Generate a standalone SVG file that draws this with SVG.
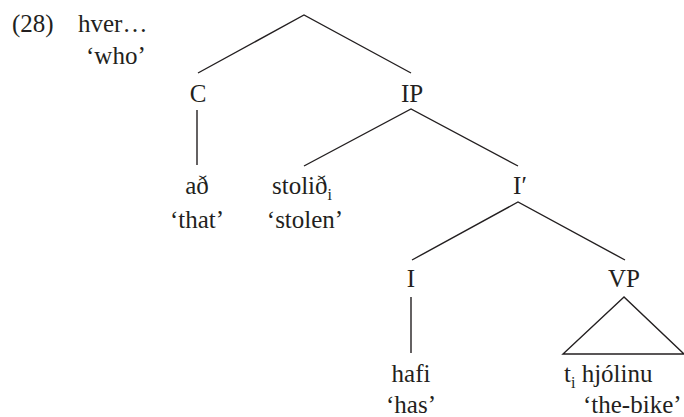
<svg xmlns="http://www.w3.org/2000/svg" width="684" height="417" viewBox="0 0 684 417">
  <rect width="684" height="417" fill="#ffffff"/>

  <!-- connectors: tree branches and the VP triangle -->
  <g id="edges" stroke="#231f20" stroke-width="1.4" fill="none">
    <polyline points="198,73 304,15 411,73"/>
    <line x1="197" y1="110" x2="197" y2="165"/>
    <polyline points="304,166 411,109 518,166"/>
    <polyline points="412,260 518,202 625,260"/>
    <line x1="411" y1="297" x2="411" y2="353"/>
    <polygon points="624,297 563,354 684,354"/>
  </g>

  <!-- labels: shared font settings on one wrapper -->
  <g font-family="Liberation Serif" font-size="25" fill="#231f20">
    <g id="label-28">
      <text x="12" y="32">(28)</text>
      <text x="78" y="32">hver…</text>
      <text x="86" y="64">‘who’</text>
    </g>

    <g id="node-C"><text text-anchor="middle" x="198" y="102">C</text></g>
    <g id="node-IP"><text text-anchor="middle" x="412" y="102">IP</text></g>

    <g id="node-adh" text-anchor="middle">
      <text x="197" y="194">að</text>
      <text x="197" y="228">‘that’</text>
    </g>

    <g id="node-stolid">
      <text x="272" y="194">stolið<tspan font-size="16" dy="6">i</tspan></text>
      <text text-anchor="middle" x="305" y="228">‘stolen’</text>
    </g>

    <g id="node-Ibar"><text text-anchor="middle" x="520" y="194">I′</text></g>

    <g id="node-I"><text text-anchor="middle" x="411" y="287">I</text></g>
    <g id="node-VP"><text text-anchor="middle" x="624" y="287">VP</text></g>

    <g id="node-hafi" text-anchor="middle">
      <text x="411" y="382">hafi</text>
      <text x="411" y="413">‘has’</text>
    </g>

    <g id="node-hjolinu">
      <text x="564" y="382">t<tspan font-size="16" dy="6">i</tspan><tspan dy="-6"> hjólinu</tspan></text>
      <text x="583" y="413">‘the-bike’</text>
    </g>
  </g>
</svg>
